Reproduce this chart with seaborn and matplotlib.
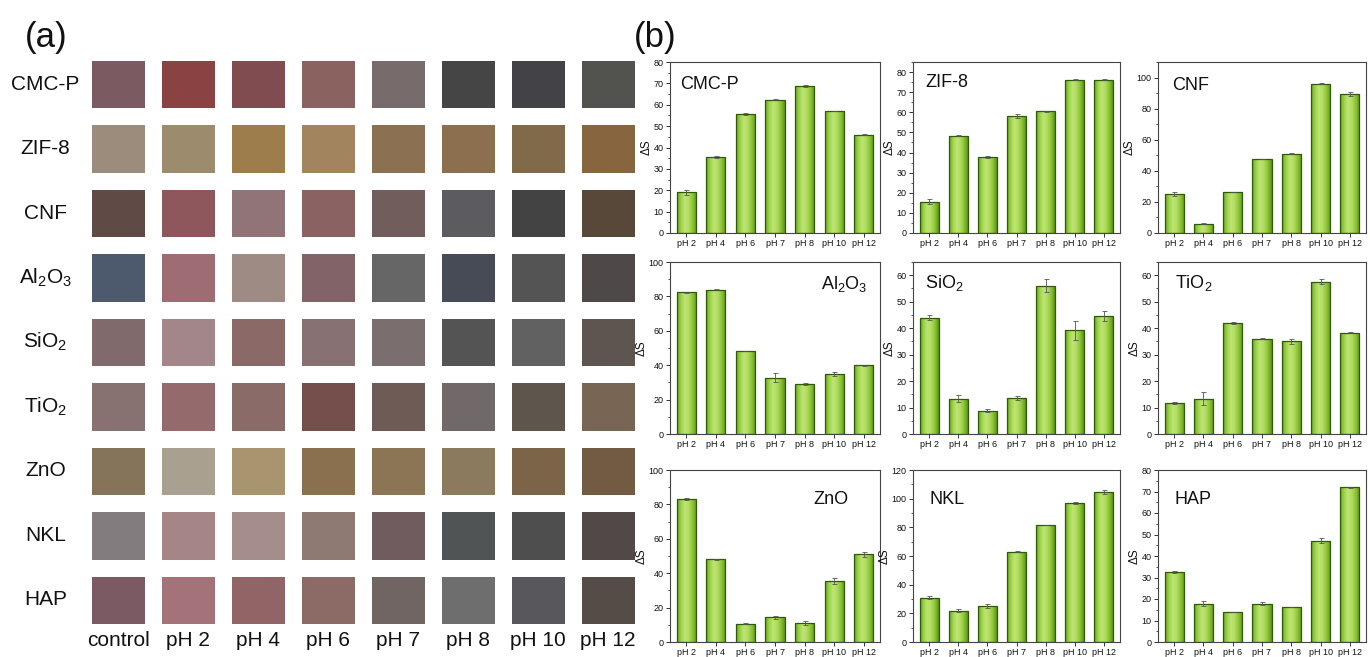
import numpy as np
import pandas as pd
import matplotlib
matplotlib.use("Agg")
import matplotlib.pyplot as plt
from matplotlib.colors import ListedColormap, LinearSegmentedColormap
from matplotlib.ticker import MultipleLocator, AutoMinorLocator
import seaborn as sns

sns.set_style("ticks")
plt.rcParams["font.family"] = ["Liberation Sans", "DejaVu Sans"]
plt.rcParams["mathtext.fontset"] = "custom"
plt.rcParams["mathtext.rm"] = "Liberation Sans"
plt.rcParams["mathtext.it"] = "Liberation Sans:italic"
plt.rcParams["mathtext.default"] = "regular"
for key in ["text.color", "axes.labelcolor", "xtick.labelcolor", "ytick.labelcolor"]:
    plt.rcParams[key] = "#111111"

# ---------------- data ----------------
materials = ["CMC-P", "ZIF-8", "CNF", "Al$_2$O$_3$", "SiO$_2$", "TiO$_2$", "ZnO", "NKL", "HAP"]
conditions = ["control", "pH 2", "pH 4", "pH 6", "pH 7", "pH 8", "pH 10", "pH 12"]
ph_labels = conditions[1:]

# film colours under each condition (control, pH 2 ... pH 12)
cmcp_colors = ["#7b5a61", "#8a4243", "#804c50", "#8a625f", "#786b6b", "#454545", "#434247", "#52524f"]
zif8_colors = ["#9b8c7c", "#9c8c6d", "#9d7d4b", "#a2855f", "#8b7051", "#8c6f4e", "#816a4a", "#87653f"]
cnf_colors = ["#604a45", "#8e575c", "#917477", "#8b6262", "#715e5c", "#5c5c60", "#434343", "#574839"]
al2o3_colors = ["#4d5a6e", "#9e6c73", "#9e8b84", "#826368", "#666666", "#464b56", "#545454", "#4f4848"]
sio2_colors = ["#806a6c", "#a2868a", "#8a6967", "#887172", "#7a6f6e", "#545454", "#616161", "#5e5450"]
tio2_colors = ["#877171", "#946a6c", "#8a6b67", "#744f4b", "#6f5b55", "#716969", "#5e564d", "#796554"]
zno_colors = ["#85745a", "#aaa090", "#a99470", "#8b7050", "#8b7554", "#8b7a5e", "#7b6448", "#735a43"]
nkl_colors = ["#837c7f", "#a68586", "#a58d8c", "#8e7a72", "#705c5e", "#505454", "#4e4e4e", "#524847"]
hap_colors = ["#7c5a63", "#a4737a", "#916466", "#8c6a65", "#706563", "#6e6e6e", "#58575c", "#564c47"]

# colour difference ΔS for each pH, with error
cmcp_ds = [19.0, 35.5, 55.5, 62.3, 68.8, 57.1, 46.0]
cmcp_err = [1.3, 0.5, 0.5, 0.3, 0.4, 0.2, 0.2]
zif8_ds = [15.5, 48.3, 37.8, 58.0, 60.4, 76.3, 76.2]
zif8_err = [1.2, 0.3, 0.5, 1.0, 0.3, 0.2, 0.3]
cnf_ds = [25.0, 6.0, 26.3, 47.5, 51.0, 96.0, 89.5]
cnf_err = [1.5, 0.3, 0.2, 0.2, 0.2, 0.2, 1.5]
al2o3_ds = [82.5, 84.0, 48.3, 32.8, 29.2, 35.0, 40.0]
al2o3_err = [0.3, 0.2, 0.2, 2.5, 0.7, 1.3, 0.3]
sio2_ds = [44.0, 13.4, 8.8, 13.7, 56.0, 39.2, 44.6]
sio2_err = [0.8, 1.3, 0.5, 0.8, 2.5, 3.5, 2.0]
tio2_ds = [11.8, 13.4, 42.0, 36.0, 35.0, 57.6, 38.2]
tio2_err = [0.3, 2.5, 0.5, 0.2, 0.8, 1.0, 0.2]
zno_ds = [83.3, 48.0, 10.7, 14.3, 11.0, 35.5, 51.0]
zno_err = [0.7, 0.5, 0.2, 0.8, 1.0, 1.5, 1.5]
nkl_ds = [31.0, 21.7, 25.0, 63.0, 81.5, 97.0, 104.5]
nkl_err = [1.0, 1.0, 1.5, 0.3, 0.2, 1.0, 1.5]
hap_ds = [32.5, 17.8, 14.0, 17.8, 16.3, 47.2, 72.0]
hap_err = [0.3, 1.2, 0.1, 0.8, 0.1, 1.0, 0.3]

W, H = 1370, 657
fig = plt.figure(figsize=(W / 100, H / 100), dpi=100)


def px_axes(left, top, right, bottom):
    return fig.add_axes([left / W, 1 - bottom / H, (right - left) / W, (bottom - top) / H])


# ---------------- (a) colour swatches ----------------
all_colors = [cmcp_colors, zif8_colors, cnf_colors, al2o3_colors, sio2_colors,
              tio2_colors, zno_colors, nkl_colors, hap_colors]
flat = [c for row in all_colors for c in row]
idx = np.arange(len(flat)).reshape(len(materials), len(conditions))
swatch_cmap = ListedColormap(flat)

axa = px_axes(74.6, 43.4, 651.4, 640.6)
sns.heatmap(idx, cmap=swatch_cmap, vmin=-0.5, vmax=len(flat) - 0.5, cbar=False,
            linewidths=12, linecolor="white", xticklabels=conditions,
            yticklabels=materials, ax=axa)
axa.set_axisbelow(False)
axa.set_xlim(-0.12, len(conditions) + 0.12)
axa.set_ylim(len(materials) + 0.13, -0.13)
axa.set_xticklabels(conditions, rotation=0, fontsize=15)
axa.set_yticklabels(materials, rotation=0, ha="center", fontsize=15)
axa.tick_params(axis="both", length=0)
axa.tick_params(axis="x", pad=-7)
axa.tick_params(axis="y", pad=21)
for s in axa.spines.values():
    s.set_visible(False)

fig.text(46 / W, 1 - 38 / H, "(a)", fontsize=25, ha="center", va="center")
fig.text(655 / W, 1 - 38 / H, "(b)", fontsize=25, ha="center", va="center")

# ---------------- (b) ΔS bar charts ----------------
bar_cmap = LinearSegmentedColormap.from_list(
    "bar", ["#66a21c", "#9dd24a", "#bee574", "#b0dc5e", "#8cc236", "#5a9414"])
edge_col = "#2f5a08"

col_x = [(670, 880), (913, 1120), (1158, 1366)]
row_y = [(62, 233), (262, 434), (470, 642)]

panels = [
    (materials[0], cmcp_ds, cmcp_err, 80, 10, "left", 0.05, 0.87),
    (materials[1], zif8_ds, zif8_err, 85, 10, "left", 0.06, 0.88),
    (materials[2], cnf_ds, cnf_err, 110, 20, "left", 0.07, 0.86),
    (materials[3], al2o3_ds, al2o3_err, 100, 20, "right", 0.94, 0.87),
    (materials[4], sio2_ds, sio2_err, 65, 10, "left", 0.06, 0.88),
    (materials[5], tio2_ds, tio2_err, 65, 10, "left", 0.08, 0.88),
    (materials[6], zno_ds, zno_err, 100, 20, "right", 0.85, 0.83),
    (materials[7], nkl_ds, nkl_err, 120, 20, "left", 0.08, 0.83),
    (materials[8], hap_ds, hap_err, 80, 10, "left", 0.08, 0.83),
]

grad = np.linspace(0, 1, 128).reshape(1, -1)
for k, (name, vals, errs, ymax, step, ha, tx, ty) in enumerate(panels):
    r, c = divmod(k, 3)
    ax = px_axes(col_x[c][0], row_y[r][0], col_x[c][1], row_y[r][1])
    df = pd.DataFrame({"pH": ph_labels, "dS": vals})
    sns.barplot(data=df, x="pH", y="dS", ax=ax, color="#9fd04a", saturation=1,
                width=0.65, edgecolor=edge_col, linewidth=0.9, errorbar=None)
    # cylindrical shading inside each bar
    for p in list(ax.patches):
        x0, w, h = p.get_x(), p.get_width(), p.get_height()
        im = ax.imshow(grad, extent=[x0, x0 + w, 0, h], cmap=bar_cmap, aspect="auto",
                       interpolation="bilinear", zorder=1.5)
        im.set_clip_path(p)
        p.set_facecolor("none")
        p.set_zorder(2)
    xs = np.arange(len(ph_labels))
    ax.errorbar(xs, vals, yerr=errs, fmt="none", ecolor="#555555", elinewidth=0.6,
                capsize=1.8, capthick=0.6, zorder=4)
    ax.set_xlim(-0.55, len(ph_labels) - 0.45)
    ax.set_ylim(0, ymax)
    ax.set_aspect("auto")
    ax.yaxis.set_major_locator(MultipleLocator(step))
    ax.yaxis.set_minor_locator(AutoMinorLocator(2))
    ax.tick_params(axis="both", which="major", direction="out", length=3, width=0.7,
                   labelsize=6.5, pad=1.5, color="#333333")
    ax.tick_params(axis="y", which="minor", direction="out", length=1.8, width=0.6,
                   color="#333333")
    ax.set_xlabel("")
    ax.set_ylabel("ΔS", fontsize=8.5, labelpad=1)
    for s in ax.spines.values():
        s.set_visible(True)
        s.set_linewidth(0.8)
        s.set_color("#444444")
    ax.text(tx, ty, name, transform=ax.transAxes, fontsize=13, ha=ha, va="center",
            zorder=5)

fig.savefig("out.png", dpi=100)
